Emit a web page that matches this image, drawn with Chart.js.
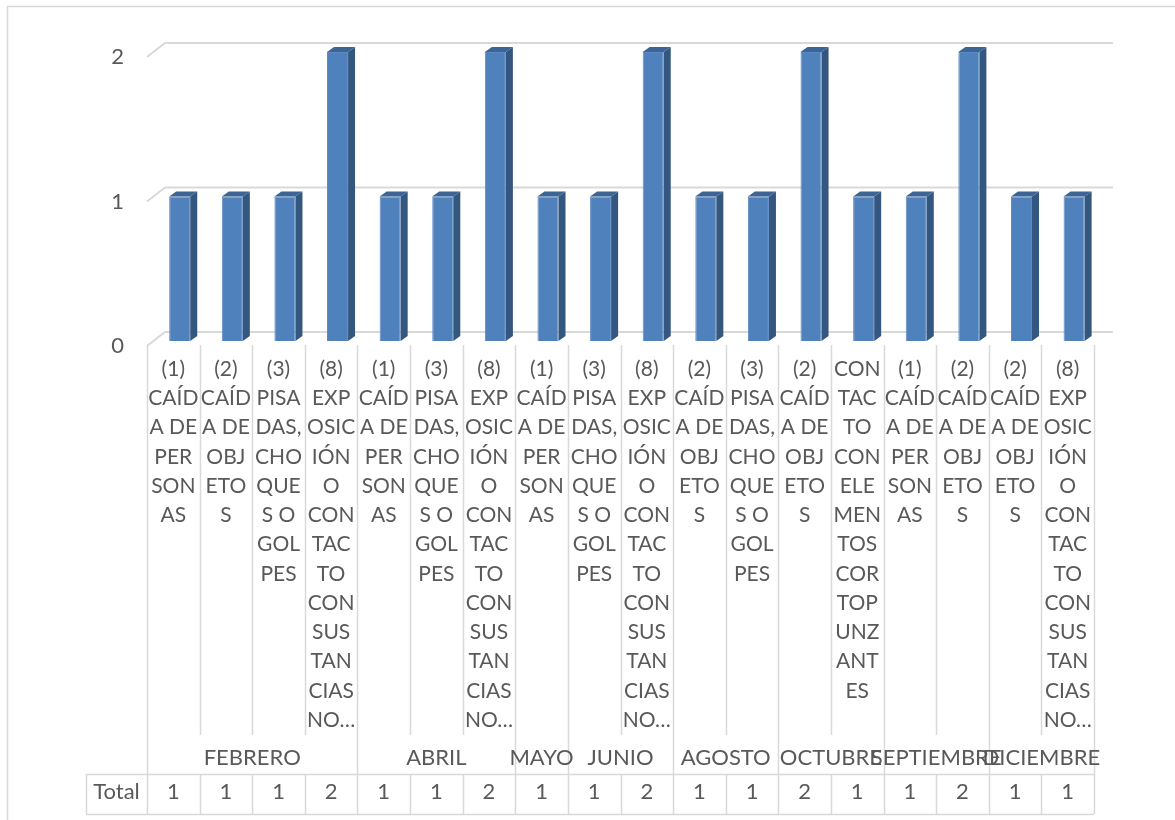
<!DOCTYPE html>
<html><head><meta charset="utf-8">
<script src="https://cdn.jsdelivr.net/npm/chart.js@4.4.0/dist/chart.umd.min.js"></script>
<style>html,body{margin:0;padding:0;background:#fff}canvas{display:block}</style>
</head><body>
<canvas id="c" width="1175" height="820"></canvas>
<script>
// ---- data ----
const categories = [
  ["(1)","CAÍD","A DE","PER","SON","AS"],
  ["(2)","CAÍD","A DE","OBJ","ETO","S"],
  ["(3)","PISA","DAS,","CHO","QUE","S O","GOL","PES"],
  ["(8)","EXP","OSIC","IÓN","O","CON","TAC","TO","CON","SUS","TAN","CIAS","NO…"],
  ["(1)","CAÍD","A DE","PER","SON","AS"],
  ["(3)","PISA","DAS,","CHO","QUE","S O","GOL","PES"],
  ["(8)","EXP","OSIC","IÓN","O","CON","TAC","TO","CON","SUS","TAN","CIAS","NO…"],
  ["(1)","CAÍD","A DE","PER","SON","AS"],
  ["(3)","PISA","DAS,","CHO","QUE","S O","GOL","PES"],
  ["(8)","EXP","OSIC","IÓN","O","CON","TAC","TO","CON","SUS","TAN","CIAS","NO…"],
  ["(2)","CAÍD","A DE","OBJ","ETO","S"],
  ["(3)","PISA","DAS,","CHO","QUE","S O","GOL","PES"],
  ["(2)","CAÍD","A DE","OBJ","ETO","S"],
  ["CON","TAC","TO","CON","ELE","MEN","TOS","COR","TOP","UNZ","ANT","ES"],
  ["(1)","CAÍD","A DE","PER","SON","AS"],
  ["(2)","CAÍD","A DE","OBJ","ETO","S"],
  ["(2)","CAÍD","A DE","OBJ","ETO","S"],
  ["(8)","EXP","OSIC","IÓN","O","CON","TAC","TO","CON","SUS","TAN","CIAS","NO…"]
];
const months = ["FEBRERO","FEBRERO","FEBRERO","FEBRERO","ABRIL","ABRIL","ABRIL","MAYO",
  "JUNIO","JUNIO","AGOSTO","AGOSTO","OCTUBRE","OCTUBRE","SEPTIEMBRE","SEPTIEMBRE",
  "DICIEMBRE","DICIEMBRE"];
const totals = [1,1,1,2,1,1,2,1,1,2,1,1,2,1,1,2,1,1];
const seriesName = "Total";
const yTicks = [0,1,2];

// ---- styles ----
const FONT = "Lato, 'Open Sans', sans-serif";
const FS = 22, FS_CAT = 21;
const TXT = "#595959";
const GRID = "#D9D9D9";
const WALL_DX = 18, WALL_DY = -14;     // depth of back wall
const BAR_DX = 6.4, BAR_DY = -5;       // bar placement inside depth
const SIDE_DX = 7, SIDE_DY = -5;       // bar thickness

const plugin3d = {
  id: 'plugin3d',
  beforeDraw(chart) {
    const {ctx, chartArea: a, scales: {y}} = chart;
    ctx.save();
    ctx.strokeStyle = GRID; ctx.lineWidth = 1.5;
    ctx.strokeRect(7.5, 6.5, 1400, 1000);
    ctx.lineWidth = 2;
    y.ticks.forEach(t => {
      const py = y.getPixelForValue(t.value);
      ctx.beginPath();
      ctx.moveTo(a.left, py);
      ctx.lineTo(a.left + WALL_DX, py + WALL_DY);
      ctx.lineTo(a.right + WALL_DX + 1, py + WALL_DY);
      ctx.stroke();
    });
    ctx.restore();
  },
  beforeDatasetsDraw(chart) {
    chart.ctx.save();
    chart.ctx.translate(BAR_DX, BAR_DY);
  },
  afterDatasetsDraw(chart) {
    const ctx = chart.ctx;
    const meta = chart.getDatasetMeta(0);
    meta.data.forEach(bar => {
      const p = bar.getProps(['x','y','base','width'], true);
      const l = p.x - p.width/2, r = p.x + p.width/2, t = p.y, b = p.base;
      ctx.fillStyle = '#34577F';
      ctx.beginPath();
      ctx.moveTo(r, t); ctx.lineTo(r + SIDE_DX, t + SIDE_DY);
      ctx.lineTo(r + SIDE_DX, b + SIDE_DY); ctx.lineTo(r, b); ctx.closePath(); ctx.fill();
      ctx.fillStyle = '#3C6494';
      ctx.beginPath();
      ctx.moveTo(l, t); ctx.lineTo(l + SIDE_DX, t + SIDE_DY);
      ctx.lineTo(r + SIDE_DX, t + SIDE_DY); ctx.lineTo(r, t); ctx.closePath(); ctx.fill();
    });
    ctx.restore();
  },
  afterDraw(chart) {
    const {ctx, chartArea: a, scales: {x}} = chart;
    const n = chart.data.labels.length;
    const colW = (a.right - a.left) / n;
    const top = a.bottom - 1;
    const labelEnd = 735, monthEnd = 774, tableEnd = 814, tableLeft = 86;
    ctx.save();
    ctx.strokeStyle = GRID; ctx.lineWidth = 1.5;
    // column separators
    for (let i = 0; i <= n; i++) {
      const bx = Math.round(a.left + i * colW) + 0.5;
      const isMonthEdge = i === 0 || i === n || months[i] !== months[i-1];
      ctx.beginPath();
      ctx.moveTo(bx, top);
      ctx.lineTo(bx, isMonthEdge ? tableEnd : labelEnd);
      ctx.stroke();
      if (!isMonthEdge) {
        ctx.beginPath(); ctx.moveTo(bx, monthEnd); ctx.lineTo(bx, tableEnd); ctx.stroke();
      }
    }
    // table rows
    ctx.beginPath();
    ctx.moveTo(tableLeft, monthEnd + 0.5); ctx.lineTo(a.right, monthEnd + 0.5);
    ctx.moveTo(tableLeft, tableEnd + 0.5); ctx.lineTo(a.right, tableEnd + 0.5);
    ctx.moveTo(tableLeft + 0.5, monthEnd); ctx.lineTo(tableLeft + 0.5, tableEnd);
    ctx.stroke();

    ctx.fillStyle = TXT;
    ctx.textAlign = 'center'; ctx.textBaseline = 'middle';
    // category labels
    ctx.font = FS_CAT + "px " + FONT;
    chart.data.labels.forEach((lines, i) => {
      const cx = x.getPixelForValue(i);
      lines.forEach((ln, j) => ctx.fillText(ln, cx, 369 + j * 29.25));
    });
    ctx.font = FS + "px " + FONT;
    // month groups
    let s = 0;
    for (let i = 1; i <= n; i++) {
      if (i === n || months[i] !== months[s]) {
        const cx = (x.getPixelForValue(s) + x.getPixelForValue(i - 1)) / 2;
        ctx.fillText(months[s], cx, 758);
        s = i;
      }
    }
    // data table
    ctx.fillText(seriesName, (tableLeft + a.left) / 2, 792);
    chart.data.datasets[0].data.forEach((v, i) => {
      ctx.fillText(String(v), x.getPixelForValue(i), 792);
    });
    ctx.restore();
  }
};

new Chart(document.getElementById('c'), {
  type: 'bar',
  data: {
    labels: categories,
    datasets: [{
      label: seriesName,
      data: totals,
      backgroundColor: '#4F81BD',
      borderColor: '#5B8AC3',
      borderWidth: 1,
      categoryPercentage: 1,
      barPercentage: 0.4,
      clip: false
    }]
  },
  options: {
    responsive: false,
    animation: false,
    events: [],
    layout: { padding: { top: 57, bottom: 474, right: 81, left: 0 } },
    plugins: { legend: { display: false }, tooltip: { enabled: false } },
    scales: {
      x: { display: false },
      y: {
        min: yTicks[0], max: yTicks[yTicks.length - 1],
        afterFit(scale) { scale.width = 147; },
        afterBuildTicks(scale) { scale.ticks = yTicks.map(v => ({ value: v })); },
        grid: { display: false, drawTicks: false },
        border: { display: false },
        ticks: { padding: 23, color: TXT, font: { family: FONT, size: FS } }
      }
    }
  },
  plugins: [plugin3d]
});
</script>
</body></html>
